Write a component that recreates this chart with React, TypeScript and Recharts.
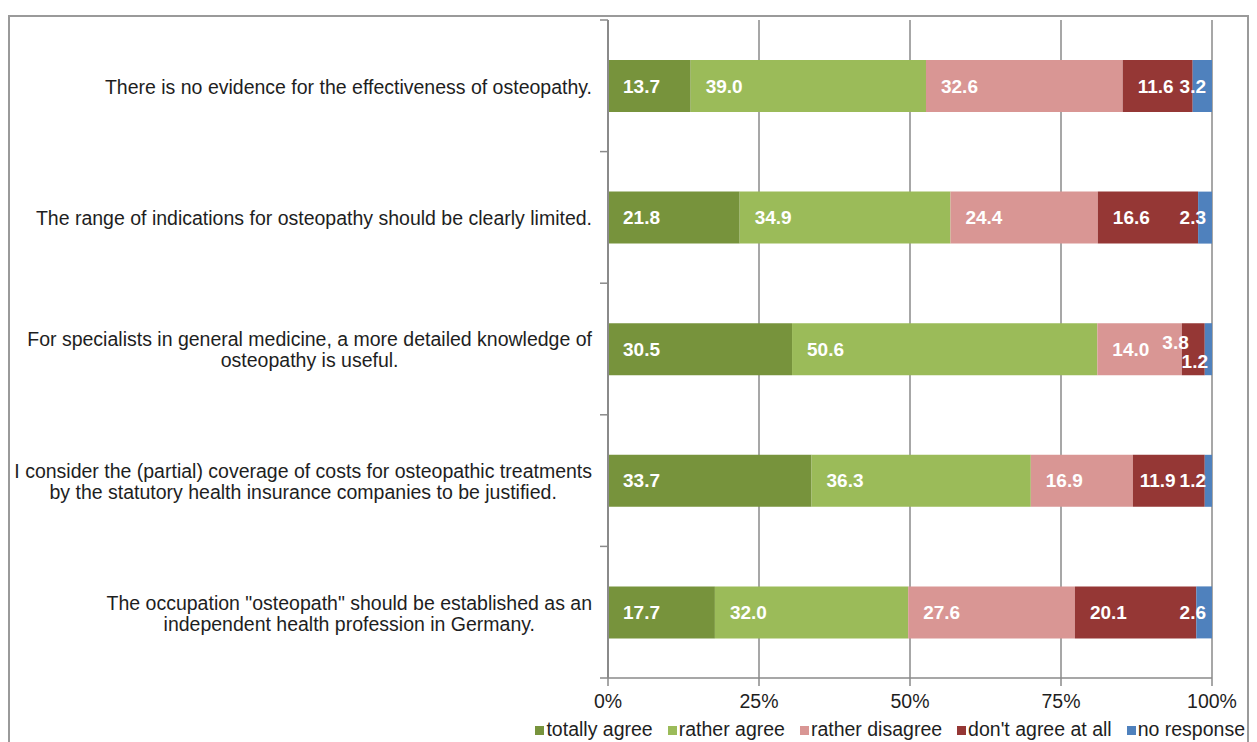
import React from "react";
import { BarChart, Bar, XAxis, YAxis, CartesianGrid, Legend, LabelList } from "recharts";

const categories = [
  "There is no evidence for the effectiveness of osteopathy.",
  "The range of indications for osteopathy should be clearly limited.",
  "For specialists in general medicine, a more detailed knowledge of\nosteopathy is useful.",
  "I consider the (partial) coverage of costs for osteopathic treatments\nby the statutory health insurance companies to be justified.",
  "The occupation \"osteopath\" should be established as an\nindependent health profession in Germany.",
];
const totallyAgree = [13.7, 21.8, 30.5, 33.7, 17.7];
const ratherAgree = [39.0, 34.9, 50.6, 36.3, 32.0];
const ratherDisagree = [32.6, 24.4, 14.0, 16.9, 27.6];
const dontAgree = [11.6, 16.6, 3.8, 11.9, 20.1];
const noResponse = [3.2, 2.3, 1.2, 1.2, 2.6];
const seriesNames = ["totally agree", "rather agree", "rather disagree", "don't agree at all", "no response"];
const seriesColors = ["#77933C", "#9BBB59", "#D99694", "#953735", "#4F81BD"];
const xTicks = [0, 0.25, 0.5, 0.75, 1];
const xTickLabels = ["0%", "25%", "50%", "75%", "100%"];

const seriesValues = [totallyAgree, ratherAgree, ratherDisagree, dontAgree, noResponse];
const seriesKeys = ["s0", "s1", "s2", "s3", "s4"];

const data = categories.map((c, i) => {
  const row: any = { name: c };
  seriesKeys.forEach((k, s) => (row[k] = seriesValues[s][i]));
  return row;
});

const FONT = "'Liberation Sans', Arial, sans-serif";
const FS = 19;
const CAT_FS = 19.5;
const TEXT = "#1e1e1e";
const GRID = "#8a8a8a";

let canvasCtx: CanvasRenderingContext2D | null = null;
function measure(text: string, bold = false, size = FS): number {
  if (!canvasCtx) {
    const c = document.createElement("canvas");
    canvasCtx = c.getContext("2d");
  }
  if (!canvasCtx) return text.length * size * 0.5;
  canvasCtx.font = `${bold ? "bold " : ""}${size}px 'Liberation Sans', Arial, sans-serif`;
  return canvasCtx.measureText(text).width;
}

const CHART_W = 1243;
const CHART_H = 734;
const MARGIN = { top: 12, right: 39, left: 0, bottom: 2 };
const Y_W = 600;
const X_H = 40;
const LEGEND_H = 22;
const PLOT_H = CHART_H - MARGIN.top - MARGIN.bottom - X_H - LEGEND_H;
const BAND = PLOT_H / categories.length;

const YTick = (props: any) => {
  const { y, payload, index } = props;
  const lines = String(payload.value).split("\n");
  const right = 584;
  const maxW = Math.max(...lines.map((l) => measure(l, false, CAT_FS)));
  const cx = right - maxW / 2;
  const lh = 21;
  const axisX = Y_W;
  const top = y - BAND / 2;
  return (
    <g>
      <line x1={axisX - 8} x2={axisX} y1={top} y2={top} stroke={GRID} strokeWidth={1.5} />
      {index === categories.length - 1 && (
        <line x1={axisX - 8} x2={axisX} y1={y + BAND / 2} y2={y + BAND / 2} stroke={GRID} strokeWidth={1.5} />
      )}
      {lines.map((l, i) => (
        <text
          key={i}
          x={cx}
          y={y + 1 + (i - (lines.length - 1) / 2) * lh}
          dy="0.35em"
          textAnchor="middle"
          fontSize={CAT_FS}
          fontFamily={FONT}
          fill={TEXT}
        >
          {l}
        </text>
      ))}
    </g>
  );
};

const XTick = (props: any) => {
  const { x, y, payload } = props;
  const i = xTicks.indexOf(payload.value);
  return (
    <text x={x} y={y + 13} dy="0.35em" textAnchor="middle" fontSize={CAT_FS} fontFamily={FONT} fill={TEXT}>
      {xTickLabels[i] ?? ""}
    </text>
  );
};

const makeLabel = (s: number) => (props: any) => {
  const { x, y, width, height, index } = props;
  const v = seriesValues[s][index];
  if (v == null || !width) return null;
  const text = v.toFixed(1);
  const cy = y + height / 2;
  const tw = measure(text, true);
  const pxPer = width / v;
  let tx = x + 15;
  let anchor: "start" | "end" = "start";
  let dy = 0;
  const v3 = seriesValues[3][index];
  const w3 = v3 * pxPer;
  const narrow3 = w3 < measure(v3.toFixed(1), true) + 8;
  if (s === 3) {
    if (narrow3) {
      anchor = "end";
      tx = x + width - 16;
      dy = -7;
    } else {
      const v4 = seriesValues[4][index];
      const w4 = v4 * pxPer;
      const over4 = Math.max(0, measure(v4.toFixed(1), true) + 6 - w4);
      const off = Math.min(15, width - tw - over4 - 4);
      tx = x + off;
    }
  } else if (s === 4) {
    anchor = "end";
    if (narrow3) {
      tx = x + width - 4;
      dy = 12;
    } else {
      tx = x + width - 6;
    }
  }
  return (
    <text
      x={tx}
      y={cy + dy}
      dy="0.35em"
      textAnchor={anchor}
      fontSize={FS}
      fontWeight="bold"
      fontFamily={FONT}
      fill="#ffffff"
    >
      {text}
    </text>
  );
};

const LegendContent = () => (
  <div
    style={{
      display: "flex",
      justifyContent: "flex-end",
      alignItems: "center",
      height: LEGEND_H,
      fontFamily: FONT,
      fontSize: CAT_FS,
      color: TEXT,
      whiteSpace: "nowrap",
    }}
  >
    {seriesNames.map((n, i) => (
      <div key={n} style={{ display: "flex", alignItems: "center", marginLeft: i === 0 ? 0 : 15 }}>
        <span
          style={{
            display: "inline-block",
            width: 9,
            height: 9,
            background: seriesColors[i],
            marginRight: 2,
            marginTop: 3,
          }}
        />
        <span>{n}</span>
      </div>
    ))}
  </div>
);

export default function App() {
  return (
    <div style={{ position: "relative", width: 1249, height: 734 }}>
      <div
        style={{
          position: "absolute",
          left: 0,
          top: 7,
          width: 1237,
          height: 760,
          border: "2px solid #9a9a9a",
        }}
      />
      <div style={{ position: "absolute", left: 0, top: 0 }}>
        <BarChart
          width={CHART_W}
          height={CHART_H}
          data={data}
          layout="vertical"
          stackOffset="expand"
          margin={MARGIN}
          barSize={52}
        >
          <CartesianGrid horizontal={false} stroke={GRID} strokeWidth={1.5} />
          <XAxis
            type="number"
            domain={[0, 1]}
            ticks={xTicks}
            height={X_H}
            axisLine={{ stroke: GRID, strokeWidth: 1.5 }}
            tickLine={{ stroke: GRID, strokeWidth: 1.5 }}
            tickSize={8}
            tick={<XTick />}
            interval={0}
          />
          <YAxis
            type="category"
            dataKey="name"
            width={Y_W}
            axisLine={{ stroke: GRID, strokeWidth: 2 }}
            tickLine={false}
            tick={<YTick />}
            interval={0}
          />
          <Legend
            verticalAlign="bottom"
            content={<LegendContent />}
            wrapperStyle={{ left: 0, width: CHART_W - 6, height: LEGEND_H, bottom: MARGIN.bottom }}
          />
          {seriesKeys.map((k, s) => (
            <Bar
              key={k}
              dataKey={k}
              name={seriesNames[s]}
              stackId="a"
              fill={seriesColors[s]}
              isAnimationActive={false}
            >
              <LabelList dataKey={k} content={makeLabel(s)} />
            </Bar>
          ))}
        </BarChart>
      </div>
    </div>
  );
}
